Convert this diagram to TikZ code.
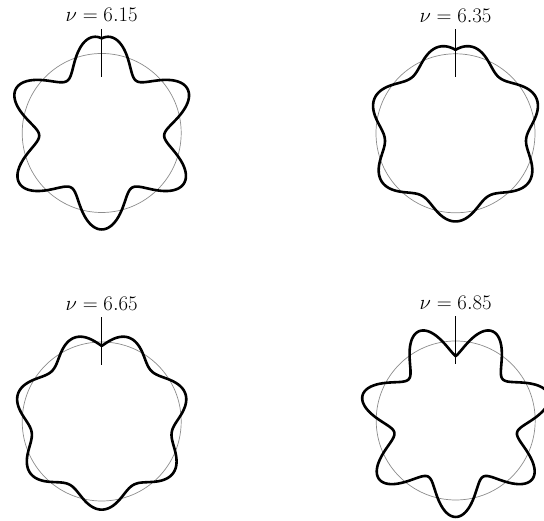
\documentclass[tikz,border=0pt]{standalone}
\begin{document}
\begin{tikzpicture}[x=1pt,y=1pt,
  refcircle/.style={draw=black!45, line width=0.7pt},
  orbit/.style={draw=black, line width=2.6pt, line join=round},
  tickline/.style={draw=black, line width=1pt},
  nulabel/.style={anchor=base, inner sep=0pt, font=\fontsize{20}{24}\selectfont}]
\useasboundingbox (0,0) rectangle (544,521);
\newcommand\orbitpanel[4]{%
  \pgfmathsetmacro\ampl{7.7/sin(180*#3)}%
  \draw[refcircle] (#1,#2) circle[radius=79.5];
  \draw[orbit] plot[domain=-180:180, samples=721, smooth, variable=\t]
    ({#1+(79.5+\ampl*cos(#3*\t))*sin(\t)}, {#2-(79.5+\ampl*cos(#3*\t))*cos(\t)}) -- cycle;
  \draw[tickline] (#1,#2+104) -- (#1,#2+56);
  \node[nulabel] (#4) at (#1,#2+111) {$\nu = #3$};
}
\orbitpanel{101.7}{388}{6.15}{labelA}
\orbitpanel{455.5}{387.7}{6.35}{labelB}
\orbitpanel{101.7}{99.5}{6.65}{labelC}
\orbitpanel{455.7}{100.5}{6.85}{labelD}
\end{tikzpicture}
\end{document}
